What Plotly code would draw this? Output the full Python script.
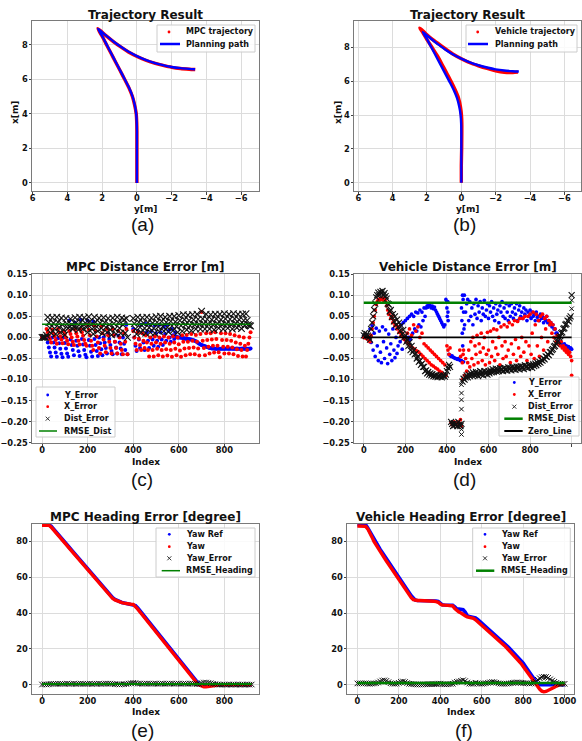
import plotly.graph_objects as go

W, H = 582, 741
def px(v): return v / W
def py(v): return 1 - v / H

BLUE, RED, BLACK, GREEN = '#0000ff', '#ff0000', '#000000', '#008000'

# ---------------- data: (a)/(b) trajectories ----------------
path_y = [0, 0, 0, 0, 0.01, 0.04, 0.12, 0.25, 0.45, 0.7, 0.96, 1.22, 1.48, 1.74, 2.0, 2.24,
          1.8, 1.33, 0.9, 0.5, 0.0, -0.5, -1.0, -1.5, -2.0, -2.5, -3.0, -3.35]
path_x = [0, 1, 2, 3, 3.5, 4, 4.5, 5, 5.5, 6, 6.5, 7, 7.5, 8, 8.5, 8.92,
          8.55, 8.17, 7.86, 7.6, 7.34, 7.12, 6.95, 6.82, 6.71, 6.64, 6.6, 6.58]
mpc_y = [0, 0, 0, 0, 0.01, 0.04, 0.13, 0.26, 0.46, 0.71, 0.97, 1.23, 1.49, 1.75, 2.01, 2.25,
         1.8, 1.32, 0.89, 0.49, -0.01, -0.51, -1.01, -1.51, -2.01, -2.51, -3.01, -3.36]
mpc_x = [0, 1, 2, 3, 3.5, 4, 4.5, 5, 5.5, 6, 6.5, 7, 7.5, 8, 8.5, 8.93,
         8.54, 8.15, 7.84, 7.58, 7.32, 7.1, 6.93, 6.8, 6.69, 6.62, 6.58, 6.56]
veh_y = [0, 0, -0.02, -0.03, -0.03, -0.01, 0.05, 0.16, 0.36, 0.6, 0.86, 1.12, 1.39, 1.7, 2.02, 2.25, 2.42,
         2.1, 1.7, 1.3, 0.9, 0.5, 0.0, -0.5, -1.0, -1.5, -2.0, -2.5, -3.0, -3.3]
veh_x = [0, 1, 2, 3, 3.5, 4, 4.5, 5, 5.5, 6, 6.5, 7, 7.5, 8, 8.5, 8.9, 9.15,
         8.85, 8.5, 8.2, 7.9, 7.62, 7.34, 7.1, 6.92, 6.76, 6.62, 6.53, 6.52, 6.55]

# ---------------- data: (c) MPC distance error, index step 5 ----------------
idx_c = list(range(0, 920, 5))
yerr_c = [
    [0, 0, 0, 0, 0.0, -0.012, -0.024, -0.036, -0.045, 0.0, -0.012, -0.024, -0.036, -0.046, -0.002, -0.014, -0.027, -0.039, -0.047, 0.0],
    [-0.013, -0.026, -0.038, -0.046, 0.04, -0.005, -0.018, -0.03, -0.042, 0.035, -0.008, -0.02, -0.033, -0.044, 0.042, -0.004, -0.017, -0.03, -0.041, -0.047],
    [0.04, -0.006, -0.02, -0.034, -0.045, 0.038, -0.004, -0.018, -0.032, -0.044, 0.0, -0.014, -0.028, -0.042, 0.0, -0.012, -0.025, -0.038, 0.01, -0.004],
    [-0.018, -0.032, -0.04, 0.005, -0.01, -0.024, -0.038, 0.004, -0.012, -0.026, -0.04, 0.0, -0.015, -0.03, 0.03, -0.04, None, None, None, None],
    [0.02, 0.0, -0.02, -0.032, 0.015, -0.005, -0.025, 0.03, 0.01, -0.012, -0.03, 0.032, 0.012, -0.008, -0.025, 0.03, 0.015, -0.005, -0.02, 0.028],
    [0.01, -0.008, -0.022, 0.03, 0.012, -0.005, -0.018, 0.025, 0.008, -0.008, 0.03, 0.015, 0.0, -0.01, 0.02, 0.005, -0.004, 0.012, 0.002, 0.0],
    [0.0, 0.0, -0.001, -0.001, -0.002, -0.002, -0.003, -0.003, -0.004, -0.004, -0.005, -0.005, -0.006, -0.007, -0.008, -0.009, -0.011, -0.013, -0.015, -0.017],
    [-0.018, -0.019, -0.02, -0.021, -0.022, -0.023, -0.024, -0.025, -0.025, -0.026, -0.026, -0.026, -0.027, -0.027, -0.027, -0.027, -0.027, -0.027, -0.027, -0.027],
    [-0.027, -0.027, -0.026, -0.027, -0.027, -0.027, -0.026, -0.027, -0.027, -0.027, -0.027, -0.026, -0.027, -0.027, -0.027, -0.027, -0.026, -0.027, -0.027, -0.027],
    [-0.027, -0.027, -0.027, -0.026],
]
xerr_c = [
    [0, 0, 0, 0, 0.02, 0.012, 0.004, -0.004, -0.012, 0.018, 0.01, 0.002, -0.006, -0.015, 0.02, 0.012, 0.003, -0.005, -0.014, 0.015],
    [0.008, 0.0, -0.008, -0.016, 0.015, 0.008, 0.0, -0.01, -0.018, 0.018, 0.01, 0.002, -0.008, -0.017, 0.02, 0.012, 0.004, -0.006, -0.015, -0.02],
    [0.03, 0.018, 0.005, -0.008, -0.02, -0.03, 0.028, 0.015, 0.002, -0.012, -0.025, -0.038, 0.025, 0.01, -0.005, -0.02, -0.035, 0.02, 0.005, -0.01],
    [-0.025, -0.038, 0.02, 0.005, -0.01, -0.025, -0.038, 0.015, 0.0, -0.015, -0.03, -0.04, 0.01, -0.01, 0.02, -0.04, None, None, None, None],
    [0.015, 0.0, -0.015, -0.03, 0.012, -0.003, -0.018, -0.03, 0.01, -0.008, -0.025, 0.005, -0.012, -0.03, -0.045, 0.0, -0.015, -0.03, -0.045, 0.002],
    [-0.012, -0.027, -0.042, 0.0, -0.015, -0.03, -0.045, 0.002, -0.012, -0.028, -0.043, 0.0, -0.015, -0.03, -0.046, 0.003, -0.012, -0.027, -0.042, 0.0],
    [-0.016, -0.031, -0.046, 0.005, -0.01, -0.026, -0.042, 0.006, -0.01, -0.025, -0.04, 0.008, -0.008, -0.024, -0.04, 0.006, -0.01, -0.026, -0.043, 0.008],
    [0.06, -0.008, -0.025, -0.042, 0.01, -0.006, -0.022, -0.038, 0.01, -0.005, -0.02, -0.036, 0.012, -0.004, -0.02, -0.035, -0.047, 0.01, -0.006, -0.022],
    [-0.038, 0.01, -0.006, -0.022, -0.038, 0.008, -0.008, -0.024, -0.04, 0.005, -0.012, -0.028, -0.044, 0.002, -0.015, -0.03, -0.045, 0.0, -0.02, -0.045],
    [-0.03, -0.015, 0.0, 0.012],
]
dist_c = [
    [0, 0, 0, 0, 0.005, 0.048, 0.035, 0.022, 0.01, 0.047, 0.034, 0.021, 0.008, 0.048, 0.036, 0.024, 0.012, 0.046, 0.03, 0.018],
    [0.006, 0.045, 0.032, 0.022, 0.025, 0.044, 0.03, 0.02, 0.026, 0.047, 0.035, 0.025, 0.018, 0.048, 0.036, 0.028, 0.02, 0.047, 0.034, 0.024],
    [0.012, 0.049, 0.038, 0.03, 0.02, 0.008, 0.048, 0.036, 0.025, 0.015, 0.046, 0.034, 0.022, 0.01, 0.047, 0.035, 0.024, 0.012, 0.045, 0.03],
    [0.018, 0.006, 0.046, 0.033, 0.02, 0.008, 0.048, 0.035, 0.022, 0.01, 0.046, 0.03, 0.042, 0.01, 0.045, 0.0, None, None, None, None],
    [0.045, 0.033, 0.02, 0.008, 0.048, 0.036, 0.024, 0.012, 0.047, 0.034, 0.022, 0.01, 0.048, 0.035, 0.023, 0.012, 0.046, 0.034, 0.022, 0.01],
    [0.049, 0.036, 0.025, 0.014, 0.05, 0.038, 0.026, 0.015, 0.048, 0.036, 0.024, 0.013, 0.05, 0.038, 0.027, 0.016, 0.05, 0.037, 0.026, 0.012],
    [0.052, 0.04, 0.028, 0.015, 0.054, 0.042, 0.03, 0.018, 0.053, 0.04, 0.028, 0.016, 0.054, 0.042, 0.03, 0.02, 0.055, 0.043, 0.031, 0.02],
    [0.062, 0.044, 0.032, 0.02, 0.055, 0.043, 0.031, 0.02, 0.054, 0.042, 0.03, 0.018, 0.055, 0.044, 0.032, 0.022, 0.055, 0.042, 0.03, 0.02],
    [0.056, 0.044, 0.032, 0.022, 0.055, 0.043, 0.03, 0.02, 0.056, 0.044, 0.033, 0.023, 0.055, 0.042, 0.031, 0.021, 0.055, 0.04, 0.028, 0.056],
    [0.04, 0.03, 0.028, 0.027],
]
rmse_dist_c = 0.031

# ---------------- data: (d) vehicle distance error, index step 5 ----------------
idx_d = list(range(0, 1001, 5))
yerr_d = [
    [0.003, 0.005, 0.0, 0.004, 0.0, -0.005, 0.02, -0.012, 0.028, -0.03, 0.01, -0.045, 0.022, -0.02, -0.055, 0.015, -0.035, -0.06, 0.025, -0.01],
    [-0.05, 0.018, -0.025, -0.062, 0.008, -0.04, -0.015, -0.055, 0.02, -0.03, -0.048, 0.0, -0.038, -0.02, 0.025, -0.01, 0.03, -0.028, 0.035, 0.0],
    [0.04, -0.01, 0.045, 0.0, 0.05, -0.005, 0.055, 0.01, 0.05, 0.02, 0.06, 0.015, 0.058, 0.03, 0.065, 0.025, 0.06, 0.04, 0.07, 0.05],
    [0.07, 0.075, 0.072, 0.078, 0.075, 0.07, 0.074, 0.068, 0.072, 0.065, 0.06, 0.055, 0.05, 0.045, 0.04, 0.035, 0.03, 0.025, 0.03, 0.09],
    [0.085, 0.06, -0.04, -0.042, -0.045, -0.044, -0.047, -0.048, -0.05, -0.05, -0.052, -0.05, -0.053, -0.055, -0.055, 0.1, -0.058, 0.03, 0.06, 0.08],
    [0.09, 0.04, 0.085, 0.05, 0.07, 0.03, 0.08, 0.055, 0.09, 0.045, 0.075, 0.06, 0.085, 0.04, 0.07, 0.055, 0.088, 0.05, 0.065, 0.08],
    [0.045, 0.075, 0.06, 0.085, 0.05, 0.07, 0.04, 0.08, 0.055, 0.065, 0.035, 0.075, 0.06, 0.085, 0.05, 0.07, 0.045, 0.08, 0.06, 0.04],
    [0.075, 0.05, 0.08, 0.06, 0.045, 0.07, 0.055, 0.08, 0.04, 0.065, 0.075, 0.05, 0.06, 0.045, 0.07, 0.055, 0.065, 0.04, 0.06, 0.05],
    [0.065, 0.045, 0.06, 0.05, 0.055, 0.04, 0.06, 0.048, 0.05, 0.04, 0.055, 0.045, 0.05, 0.035, 0.045, 0.04, 0.05, 0.035, 0.04, 0.03],
    [0.035, 0.025, 0.03, 0.02, 0.02, 0.01, 0.01, 0.0, 0.0, -0.01, -0.012, -0.018, -0.02, -0.015, -0.022, -0.02, -0.025, -0.022, -0.027, -0.025],
    [-0.028],
]
yerr_d_extra_idx = [400, 402, 404, 406, 470, 472, 474, 476, 478, 480, 482, 484]
yerr_d_extra_val = [0.07, 0.05, 0.085, 0.04, 0.07, 0.04, 0.01, -0.02, 0.09, 0.06, 0.02, 0.1]
xerr_d = [
    [0.0, 0.003, -0.002, 0.002, -0.004, -0.008, -0.01, 0.005, 0.02, 0.035, 0.05, 0.065, 0.078, 0.085, 0.09, 0.088, 0.092, 0.09, 0.093, 0.088],
    [0.09, 0.085, 0.075, 0.065, 0.055, 0.06, 0.045, 0.05, 0.035, 0.04, 0.028, 0.03, 0.02, 0.025, 0.012, 0.015, 0.005, 0.01, 0.0, -0.005],
    [0.0, -0.01, 0.01, -0.015, 0.02, -0.02, 0.005, -0.025, 0.03, -0.028, 0.015, -0.032, 0.025, -0.035, 0.0, -0.04, 0.01, -0.045, -0.015, -0.05],
    [-0.02, -0.055, -0.025, -0.06, -0.03, -0.065, -0.035, -0.068, -0.04, -0.072, -0.045, -0.075, -0.05, -0.08, -0.055, -0.083, -0.06, -0.088, -0.065, -0.09],
    [-0.02, -0.03, -0.04, -0.025, -0.202, -0.207, -0.205, -0.2, -0.206, -0.203, -0.208, -0.201, -0.204, -0.195, -0.21, -0.1, -0.03, -0.09, -0.05, -0.08],
    [-0.06, -0.03, -0.07, -0.01, -0.05, 0.0, -0.065, -0.02, -0.04, 0.005, -0.06, -0.015, -0.035, 0.01, -0.055, -0.025, 0.0, -0.065, -0.04, 0.012],
    [-0.03, -0.06, 0.015, -0.045, -0.01, 0.02, -0.055, -0.025, 0.018, -0.04, 0.0, -0.065, 0.025, -0.02, -0.05, 0.03, -0.01, -0.045, 0.025, -0.03],
    [0.035, -0.06, -0.015, 0.03, -0.04, 0.04, -0.005, -0.055, 0.038, -0.025, 0.045, -0.045, 0.0, 0.045, -0.035, 0.05, -0.01, -0.055, 0.05, -0.02],
    [0.055, -0.04, 0.01, 0.06, -0.05, 0.03, 0.055, -0.02, 0.04, -0.045, 0.05, 0.0, 0.055, -0.03, 0.045, 0.02, 0.05, -0.01, 0.04, 0.03],
    [0.035, 0.01, 0.03, 0.0, 0.02, -0.01, 0.005, -0.015, 0.0, -0.02, -0.01, -0.025, -0.02, -0.03, -0.025, -0.035, -0.03, -0.04, -0.035, -0.045],
    [-0.09],
]
xerr_d_extra_idx = [462, 466, 474, 478, 1000]
xerr_d_extra_val = [-0.03, -0.045, -0.06, -0.04, -0.055]
dist_d = [
    [0.005, 0.01, 0.003, 0.008, 0.004, 0.0, -0.005, 0.02, 0.035, 0.05, 0.065, 0.08, 0.095, 0.1, 0.106, 0.1, 0.108, 0.104, 0.11, 0.1],
    [0.105, 0.098, 0.092, 0.08, 0.078, 0.062, 0.065, 0.048, 0.055, 0.038, 0.05, 0.03, 0.042, 0.025, 0.035, 0.015, 0.028, 0.008, 0.018, 0.0],
    [0.005, -0.01, -0.005, -0.02, -0.012, -0.03, -0.02, -0.035, -0.03, -0.04, -0.038, -0.05, -0.045, -0.058, -0.055, -0.065, -0.062, -0.07, -0.07, -0.08],
    [-0.078, -0.085, -0.082, -0.088, -0.085, -0.09, -0.087, -0.092, -0.09, -0.093, -0.089, -0.094, -0.091, -0.093, -0.09, -0.095, -0.092, -0.09, -0.093, -0.088],
    [-0.08, -0.072, -0.065, -0.07, -0.2, -0.205, -0.21, -0.203, -0.208, -0.205, -0.21, -0.2, -0.207, -0.21, -0.205, -0.105, -0.098, -0.1, -0.095, -0.09],
    [-0.095, -0.088, -0.092, -0.085, -0.09, -0.083, -0.088, -0.09, -0.082, -0.087, -0.092, -0.085, -0.08, -0.088, -0.083, -0.09, -0.08, -0.086, -0.082, -0.088],
    [-0.08, -0.085, -0.078, -0.083, -0.075, -0.082, -0.079, -0.074, -0.081, -0.076, -0.08, -0.073, -0.078, -0.075, -0.08, -0.072, -0.077, -0.074, -0.079, -0.071],
    [-0.076, -0.072, -0.078, -0.07, -0.075, -0.071, -0.077, -0.069, -0.074, -0.07, -0.076, -0.068, -0.073, -0.069, -0.075, -0.066, -0.071, -0.068, -0.073, -0.065],
    [-0.07, -0.066, -0.072, -0.064, -0.068, -0.062, -0.066, -0.06, -0.063, -0.058, -0.06, -0.054, -0.055, -0.05, -0.052, -0.045, -0.046, -0.04, -0.042, -0.035],
    [-0.035, -0.03, -0.028, -0.022, -0.02, -0.015, -0.01, -0.008, 0.0, 0.003, 0.01, 0.012, 0.02, 0.022, 0.03, 0.032, 0.04, 0.038, 0.045, 0.05],
    [0.1],
]
dist_d_extra_idx = [470, 470, 470, 470, 470, 470, 1000, 1000]
dist_d_extra_val = [-0.23, -0.218, -0.17, -0.148, -0.132, -0.112, 0.088, 0.068]
rmse_dist_d = 0.082
zero_line_d = 0.0

# ---------------- data: (e) MPC heading, index step 10 ----------------
idx_e = list(range(0, 921, 10))
yaw_ref_e = [
    [89.2, 89.2, 89.2, 89.2, 88.5, 87.1, 85.6, 84.1, 82.6, 81.1],
    [79.6, 78.1, 76.6, 75.1, 73.6, 72.1, 70.6, 69.1, 67.6, 66.1],
    [64.6, 63.1, 61.6, 60.1, 58.6, 57.1, 55.6, 54.1, 52.6, 51.2],
    [49.8, 48.6, 47.6, 46.9, 46.3, 45.9, 45.6, 45.3, 45.1, 44.9],
    [44.6, 44.2, 42.8, 41.2, 39.6, 38.0, 36.4, 34.8, 33.2, 31.6],
    [30.0, 28.4, 26.8, 25.2, 23.6, 22.0, 20.4, 18.8, 17.2, 15.6],
    [14.0, 12.4, 10.8, 9.2, 7.6, 6.0, 4.4, 2.8, 1.3, 0.0],
    [0.0, 0.0, 0.0, 0.0, 0.0, 0.0, 0.0, 0.0, 0.0, 0.0],
    [0.0, 0.0, 0.0, 0.0, 0.0, 0.0, 0.0, 0.0, 0.0, 0.0],
    [0.0, 0.0, 0.0],
]
yaw_e = [
    [89.0, 89.0, 89.0, 89.0, 88.0, 86.6, 85.1, 83.6, 82.1, 80.6],
    [79.1, 77.6, 76.1, 74.6, 73.1, 71.6, 70.1, 68.6, 67.1, 65.6],
    [64.1, 62.6, 61.1, 59.6, 58.1, 56.6, 55.1, 53.6, 52.1, 50.6],
    [49.2, 48.1, 47.3, 46.7, 46.2, 45.8, 45.5, 45.2, 45.0, 44.9],
    [44.8, 43.8, 42.2, 40.6, 39.0, 37.4, 35.8, 34.2, 32.6, 31.0],
    [29.4, 27.8, 26.2, 24.6, 23.0, 21.4, 19.8, 18.2, 16.6, 15.0],
    [13.4, 11.8, 10.2, 8.6, 7.0, 5.4, 3.8, 2.3, 0.9, -0.2],
    [-0.9, -1.2, -1.2, -1.0, -0.8, -0.5, -0.3, -0.1, 0.0, 0.0],
    [0.0, 0.0, 0.0, 0.0, 0.0, 0.0, 0.0, 0.0, 0.0, 0.0],
    [0.0, 0.0, 0.0],
]
yaw_err_e = [
    [0.1, 0.2, 0.1, 0.2, 0.5, 0.5, 0.5, 0.5, 0.5, 0.5],
    [0.5, 0.6, 0.4, 0.5, 0.6, 0.4, 0.5, 0.6, 0.5, 0.4],
    [0.5, 0.6, 0.4, 0.5, 0.5, 0.6, 0.4, 0.5, 0.6, 0.6],
    [0.6, 0.5, 0.3, 0.2, 0.1, 0.2, 0.3, 0.4, 0.6, 0.8],
    [1.0, 0.9, 0.6, 0.6, 0.5, 0.6, 0.6, 0.6, 0.5, 0.6],
    [0.6, 0.5, 0.6, 0.6, 0.5, 0.6, 0.6, 0.6, 0.5, 0.6],
    [0.6, 0.5, 0.6, 0.6, 0.5, 0.6, 0.6, 0.5, 0.4, 0.3],
    [0.9, 1.2, 1.2, 1.0, 0.8, 0.5, 0.3, 0.1, 0.0, 0.0],
    [0.1, 0.0, 0.1, 0.0, 0.1, 0.0, 0.1, 0.0, 0.1, 0.0],
    [0.1, 0.0, 0.1],
]
rmse_heading_e = 0.4

# ---------------- data: (f) vehicle heading, index step 10 ----------------
idx_f = list(range(0, 1001, 10))
yaw_ref_f = [
    [89.3, 89.3, 89.3, 89.3, 89.3, 87.5, 85.5, 83.0, 80.5, 78.8],
    [77.2, 75.5, 73.8, 72.0, 70.3, 68.5, 66.8, 65.0, 63.3, 61.5],
    [59.8, 58.2, 56.5, 54.8, 53.0, 51.3, 49.6, 48.0, 47.2, 47.0],
    [47.0, 47.0, 47.0, 47.0, 47.0, 47.0, 46.9, 46.8, 46.7, 46.5],
    [45.5, 44.6, 44.5, 44.5, 44.5, 44.4, 44.3, 43.5, 42.3, 42.2],
    [42.1, 41.9, 40.5, 38.5, 38.0, 37.8, 37.5, 37.3, 36.5, 35.5],
    [34.5, 33.5, 32.5, 31.5, 30.5, 29.5, 28.5, 27.4, 26.3, 25.2],
    [24.1, 23.0, 21.9, 20.8, 19.6, 18.4, 17.2, 16.0, 14.8, 13.6],
    [12.0, 10.3, 8.6, 6.9, 5.2, 3.5, 1.8, 0.2, 0.0, 0.0],
    [0.0, 0.0, 0.0, 0.0, 0.0, 0.0, 0.0, 0.0, 0.0, 0.0],
    [0.0],
]
yaw_f = [
    [88.6, 88.6, 88.6, 88.6, 88.4, 87.0, 85.0, 82.5, 80.0, 78.0],
    [76.3, 74.5, 72.6, 70.8, 69.0, 67.3, 65.6, 63.8, 62.0, 60.3],
    [58.6, 56.9, 55.2, 53.5, 51.8, 50.1, 48.6, 47.5, 47.1, 47.0],
    [47.0, 47.0, 47.0, 46.9, 46.9, 46.9, 46.8, 46.6, 46.4, 46.0],
    [45.0, 44.4, 44.4, 44.4, 44.3, 44.2, 44.0, 42.5, 41.3, 40.5],
    [40.0, 39.5, 38.5, 37.8, 37.5, 37.3, 37.0, 36.2, 35.2, 34.3],
    [33.3, 32.3, 31.3, 30.3, 29.3, 28.3, 27.3, 26.2, 25.1, 24.0],
    [22.9, 21.8, 20.6, 19.4, 18.2, 17.0, 15.8, 14.5, 13.2, 11.8],
    [10.2, 8.5, 6.8, 5.1, 3.5, 1.8, 0.3, -1.2, -2.6, -3.6],
    [-4.0, -3.8, -3.3, -2.7, -2.1, -1.5, -0.8, -0.2, 0.2, 0.4],
    [0.5],
]
yaw_err_f = [
    [0.7, 0.7, 0.7, 0.7, 0.8, 0.6, 0.5, 0.6, 0.7, 0.8],
    [1.2, 1.8, 2.3, 2.4, 2.1, 1.4, 0.8, 0.6, 0.5, 0.6],
    [1.0, 1.6, 1.8, 1.5, 0.9, 0.5, 0.4, 0.3, 0.2, 0.1],
    [0.1, 0.1, 0.2, 0.2, 0.3, 0.3, 0.3, 0.3, 0.4, 0.6],
    [0.6, 0.3, 0.2, 0.2, 0.3, 0.4, 0.5, 1.2, 1.6, 1.8],
    [2.2, 2.5, 2.0, 1.2, 0.6, 0.5, 0.5, 1.1, 0.8, 0.6],
    [0.5, 0.6, 0.8, 1.0, 1.3, 1.5, 1.4, 1.1, 0.8, 0.6],
    [0.5, 0.5, 0.6, 0.7, 0.8, 1.0, 1.2, 1.3, 1.2, 1.0],
    [0.9, 0.8, 0.8, 0.6, 0.7, 1.0, 1.6, 2.8, 3.6, 4.2],
    [4.4, 4.3, 3.8, 3.0, 2.3, 1.6, 1.0, 0.6, 0.3, 0.5],
    [0.5],
]
rmse_heading_f = 0.95


def flat(rows):
    out = []
    for r in rows:
        out.extend(r)
    return out


# ---------------- figure ----------------
fig = go.Figure()

AX = {'a': '', 'b': '2', 'c': '3', 'd': '4', 'e': '5', 'f': '6'}


def sc(p, x, y, **kw):
    n = AX[p]
    fig.add_trace(go.Scatter(x=x, y=y, xaxis='x' + n, yaxis='y' + n,
                             showlegend=False, hoverinfo='skip', **kw))


def dots(color, size=3.4):
    return dict(mode='markers', marker=dict(color=color, size=size, line=dict(width=0)))


def xs(size=5.2, lw=1):
    return dict(mode='markers', marker=dict(symbol='x-thin', size=size, color=BLACK,
                                            line=dict(color='#111111', width=lw)))


def hline(p, x, val, color, width):
    sc(p, [x[0], x[-1]], [val, val], mode='lines', line=dict(color=color, width=width))


# (a)
sc('a', mpc_y, mpc_x, mode='lines', line=dict(color=RED, width=3.4, shape='spline', smoothing=0.6))
sc('a', path_y, path_x, mode='lines', line=dict(color=BLUE, width=2.4, shape='spline', smoothing=0.6))
# (b)
sc('b', veh_y, veh_x, mode='lines', line=dict(color=RED, width=3.4, shape='spline', smoothing=0.6))
sc('b', path_y, path_x, mode='lines', line=dict(color=BLUE, width=2.4, shape='spline', smoothing=0.6))

# (c)
sc('c', idx_c, flat(yerr_c), **dots(BLUE, 4))
sc('c', idx_c, flat(xerr_c), **dots(RED, 4))
sc('c', idx_c, flat(dist_c), **xs(6.6, 1.1))
hline('c', idx_c, rmse_dist_c, GREEN, 1.5)

# (d)
sc('d', idx_d, flat(yerr_d), **dots(BLUE, 3.7))
sc('d', yerr_d_extra_idx, yerr_d_extra_val, **dots(BLUE, 3.7))
sc('d', idx_d, flat(xerr_d), **dots(RED, 3.7))
sc('d', xerr_d_extra_idx, xerr_d_extra_val, **dots(RED, 3.7))
sc('d', idx_d, flat(dist_d), **xs(6, 1.1))
sc('d', dist_d_extra_idx, dist_d_extra_val, **xs(4.5))
hline('d', idx_d, rmse_dist_d, GREEN, 2.5)
hline('d', idx_d, zero_line_d, BLACK, 1.8)

# (e)
sc('e', idx_e, flat(yaw_ref_e), mode='lines', line=dict(color=BLUE, width=3.6))
sc('e', idx_e, flat(yaw_e), mode='lines', line=dict(color=RED, width=3.4))
sc('e', idx_e, flat(yaw_err_e), **xs(5.5))
hline('e', idx_e, rmse_heading_e, GREEN, 2)

# (f)
sc('f', idx_f, flat(yaw_ref_f), mode='lines', line=dict(color=BLUE, width=3.6))
sc('f', idx_f, flat(yaw_f), mode='lines', line=dict(color=RED, width=3.4))
sc('f', idx_f, flat(yaw_err_f), **xs(5.5))
hline('f', idx_f, rmse_heading_f, GREEN, 2.5)

# ---------------- axes ----------------
TICKFONT = dict(family='DejaVu Sans', size=8.3, color='#111111', weight='bold')
common = dict(showgrid=True, gridcolor='#dcdcdc', gridwidth=1, showline=True,
              linecolor='#7a7a7a', linewidth=1, mirror=True, ticks='outside',
              ticklen=2.5, tickwidth=1, tickcolor='#444444', tickfont=TICKFONT,
              zeroline=False, fixedrange=True)

dist_ticks = [-0.25, -0.2, -0.15, -0.1, -0.05, 0.0, 0.05, 0.1, 0.15]
panels = {
    'a': dict(box=(32, 259, 21, 191), xr=[6.04, -7.03], yr=[-0.47, 9.37],
              xt=[6, 4, 2, 0, -2, -4, -6], yt=[0, 2, 4, 6, 8], yf=None),
    'b': dict(box=(354, 581, 21, 191), xr=[6.25, -6.97], yr=[-0.49, 9.57],
              xt=[6, 4, 2, 0, -2, -4, -6], yt=[0, 2, 4, 6, 8], yf=None),
    'c': dict(box=(32, 259, 274, 443), xr=[-44, 952], yr=[-0.2503, 0.1503],
              xt=[0, 200, 400, 600, 800], yt=dist_ticks, yf='.2f'),
    'd': dict(box=(354, 581, 274, 443), xr=[-47, 1045], yr=[-0.2503, 0.1503],
              xt=[0, 200, 400, 600, 800, 1000], yt=dist_ticks, yf='.2f'),
    'e': dict(box=(32, 259, 524, 694), xr=[-44, 952], yr=[-5.2, 89.7],
              xt=[0, 200, 400, 600, 800], yt=[0, 20, 40, 60, 80], yf=None),
    'f': dict(box=(347, 574, 524, 694), xr=[-50, 1045], yr=[-5.2, 89.7],
              xt=[0, 200, 400, 600, 800, 1000], yt=[0, 20, 40, 60, 80], yf=None),
}
lay = {}
for k, p in panels.items():
    n = AX[k]
    x0, x1, y0, y1 = p['box']
    xa = dict(common, domain=[px(x0), px(x1)], range=p['xr'], anchor='y' + n,
              tickmode='array', tickvals=p['xt'], ticklabelstandoff=-3)
    ya = dict(common, domain=[py(y1), py(y0)], range=p['yr'], anchor='x' + n,
              tickmode='array', tickvals=p['yt'], ticklabelstandoff=-1)
    if p['yf']:
        ya['tickformat'] = p['yf']
    lay['xaxis' + n] = xa
    lay['yaxis' + n] = ya

# ---------------- text ----------------
ann = []
shapes = []


def text(t, x, y, size, bold=True, family='DejaVu Sans', angle=0, anchor='center'):
    f = dict(family=family, size=size, color='#111111')
    if bold:
        f['weight'] = 'bold'
    ann.append(dict(text=t, x=px(x), y=py(y), xref='paper', yref='paper',
                    xanchor=anchor, yanchor='middle', showarrow=False, font=f,
                    textangle=angle))


for t, x, y in [('Trajectory Result', 145.5, 14.5), ('Trajectory Result', 467.5, 14.5),
                ('MPC Distance Error [m]', 145.5, 266.5), ('Vehicle Distance Error [m]', 467.5, 266.5),
                ('MPC Heading Error [degree]', 145.5, 517), ('Vehicle Heading Error [degree]', 460.5, 517)]:
    text(t, x, y, 12)

for t, x, y in [('y[m]', 145.5, 209), ('y[m]', 467, 209),
                ('Index', 145.7, 461.5), ('Index', 467.7, 461.5),
                ('Index', 145.8, 712), ('Index', 460.7, 712)]:
    text(t, x, y, 9)
text('x[m]', 15, 113, 9, angle=-90)
text('x[m]', 338, 113, 9, angle=-90)

for t, x, y in [('(a)', 142, 224.5), ('(b)', 464.3, 224.5), ('(c)', 142, 479),
                ('(d)', 464, 479), ('(e)', 142, 730), ('(f)', 464.3, 730)]:
    text(t, x, y, 19, bold=False, family='Liberation Sans')


# ---------------- legends (drawn in pixel space) ----------------
def legend(box, sym_x, line_x, text_x, rows, entries):
    x0, x1, y0, y1 = box
    shapes.append(dict(type='rect', xref='paper', yref='paper', x0=px(x0), x1=px(x1),
                       y0=py(y1), y1=py(y0), line=dict(color='#cccccc', width=1),
                       fillcolor='rgba(255,255,255,0.85)', layer='above'))
    for (kind, color, label, w), ry in zip(entries, rows):
        if kind == 'dot':
            r = 1.4
            shapes.append(dict(type='circle', xref='paper', yref='paper',
                               x0=px(sym_x - r), x1=px(sym_x + r), y0=py(ry + r), y1=py(ry - r),
                               fillcolor=color, line=dict(width=0), layer='above'))
        elif kind == 'x':
            r = 2
            for a, b in [(-r, r), (r, -r)]:
                shapes.append(dict(type='line', xref='paper', yref='paper',
                                   x0=px(sym_x - r), x1=px(sym_x + r), y0=py(ry + a), y1=py(ry + b),
                                   line=dict(color='#333333', width=1), layer='above'))
        else:
            shapes.append(dict(type='line', xref='paper', yref='paper',
                               x0=px(line_x[0]), x1=px(line_x[1]), y0=py(ry), y1=py(ry),
                               line=dict(color=color, width=w), layer='above'))
        ann.append(dict(text=label, x=px(text_x), y=py(ry), xref='paper', yref='paper',
                        xanchor='left', yanchor='middle', showarrow=False,
                        font=dict(family='DejaVu Sans', size=8, color='#111111', weight='bold')))


legend((157, 255, 25, 52), 169, (160, 180), 183.5, [32, 44],
       [('dot', RED, 'MPC trajectory', 0), ('line', BLUE, 'Planning path', 2.5)])
legend((466, 577, 25, 52), 477.7, (468, 488), 492.5, [32, 44],
       [('dot', RED, 'Vehicle trajectory', 0), ('line', BLUE, 'Planning path', 2.5)])
legend((36, 115, 387, 437), 47.7, (39, 57), 62, [395, 406.7, 418.7, 431],
       [('dot', BLUE, 'Y_Error', 0), ('dot', RED, 'X_Error', 0), ('x', BLACK, 'Dist_Error', 0),
        ('line', GREEN, 'RMSE_Dist', 1.5)])
legend((499, 579, 377, 436), 514.3, (504.3, 522.7), 526, [382.5, 394.5, 406.7, 418.7, 431],
       [('dot', BLUE, 'Y_Error', 0), ('dot', RED, 'X_Error', 0), ('x', BLACK, 'Dist_Error', 0),
        ('line', GREEN, 'RMSE_Dist', 2.5), ('line', BLACK, 'Zero_Line', 2)])
legend((156, 255, 528, 577), 169.3, (161.7, 180), 184.3, [534.3, 546.7, 558.3, 570.7],
       [('dot', BLUE, 'Yaw Ref', 0), ('dot', RED, 'Yaw', 0), ('x', BLACK, 'Yaw_Error', 0),
        ('line', GREEN, 'RMSE_Heading', 1.5)])
legend((472.7, 570.3, 528, 577), 485, (476, 494.3), 499.3, [534.3, 546.7, 558.3, 570.7],
       [('dot', BLUE, 'Yaw Ref', 0), ('dot', RED, 'Yaw', 0), ('x', BLACK, 'Yaw_Error', 0),
        ('line', GREEN, 'RMSE_Heading', 2.5)])

fig.update_layout(lay)
fig.update_layout(width=W, height=H, margin=dict(l=0, r=0, t=0, b=0, pad=0),
                  paper_bgcolor='white', plot_bgcolor='white', showlegend=False,
                  template='none', font=dict(family='DejaVu Sans'),
                  annotations=ann, shapes=shapes)
fig.write_html('out.html')
